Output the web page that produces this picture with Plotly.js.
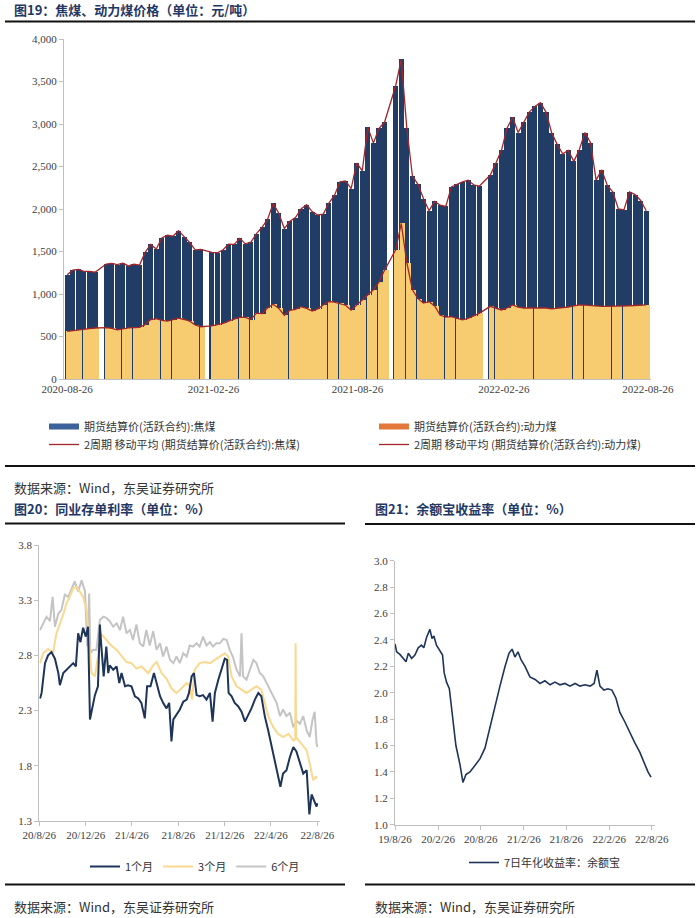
<!DOCTYPE html>
<html><head><meta charset="utf-8">
<script src="https://cdn.plot.ly/plotly-3.0.1.min.js"></script>
<style>html,body{margin:0;padding:0;background:#fff}#chart{width:700px;height:918px}</style>
</head><body><div id="chart"></div>
<script>
// ---------- Chart 1: coal prices (weekly, yuan/ton) ----------
const coalDates = [
'2020-08-26','2020-09-02','2020-09-09','2020-09-16','2020-09-23','2020-09-30',
'2020-10-14','2020-10-21','2020-10-28','2020-11-04','2020-11-11','2020-11-18','2020-11-25','2020-12-02','2020-12-09','2020-12-16','2020-12-23','2020-12-30',
'2021-01-06','2021-01-13','2021-01-20','2021-01-27','2021-02-03','2021-02-10',
'2021-02-24','2021-03-03','2021-03-10','2021-03-17','2021-03-24','2021-03-31','2021-04-07','2021-04-14','2021-04-21','2021-04-28','2021-05-05','2021-05-12','2021-05-19','2021-05-26','2021-06-02','2021-06-09','2021-06-16','2021-06-23','2021-06-30','2021-07-07','2021-07-14','2021-07-21','2021-07-28','2021-08-04','2021-08-11','2021-08-18','2021-08-25','2021-09-01','2021-09-08','2021-09-15','2021-09-22','2021-09-29',
'2021-10-13','2021-10-20','2021-10-27','2021-11-03','2021-11-10','2021-11-17','2021-11-24','2021-12-01','2021-12-08','2021-12-15','2021-12-22','2021-12-29','2022-01-05','2022-01-12','2022-01-19','2022-01-26',
'2022-02-09','2022-02-16','2022-02-23','2022-03-02','2022-03-09','2022-03-16','2022-03-23','2022-03-30','2022-04-06','2022-04-13','2022-04-20','2022-04-27','2022-05-04','2022-05-11','2022-05-18','2022-05-25','2022-06-01','2022-06-08','2022-06-15','2022-06-22','2022-06-29','2022-07-06','2022-07-13','2022-07-20','2022-07-27','2022-08-03','2022-08-10','2022-08-17','2022-08-24'
];
const cokingCoal = [
1227,1280,1290,1266,1266,1256,
1352,1360,1346,1362,1330,1350,1340,1490,1583,1530,1660,1693,
1680,1745,1675,1606,1520,1525,
1490,1485,1520,1585,1583,1655,1590,1610,1710,1785,1880,2065,1950,1770,1855,1900,2000,2050,1970,1930,1940,2070,2160,2320,2330,2240,2540,2450,2960,2775,2950,3020,
3450,3760,2950,2390,2290,2120,1980,2090,2045,2030,2260,2290,2320,2340,2285,2268,
2400,2540,2690,2950,3080,2900,3020,3140,3207,3250,3140,2900,2760,2650,2690,2560,2700,2900,2780,2340,2460,2280,2200,2000,1990,2200,2170,2100,1980
];
const thermalCoal = [
560,570,578,585,592,600,
605,595,578,590,602,605,608,640,700,710,690,680,
695,715,700,680,635,615,
625,640,655,680,705,728,725,700,775,770,835,880,830,750,808,820,850,830,800,825,870,912,905,890,868,810,870,925,990,1050,1140,1280,
1520,1830,1370,1050,945,895,910,860,750,727,733,710,695,712,740,772,
855,830,812,835,872,845,835,835,835,835,835,825,830,840,847,860,872,868,862,858,855,855,855,858,860,862,865,868,872
];
const coalTickVals = ['2020-08-26','2021-02-26','2021-08-26','2022-02-26','2022-08-26'];
const coalTickText = ['2020-08-26','2021-02-26','2021-08-26','2022-02-26','2022-08-26'];
const coalNames = ['期货结算价(活跃合约):焦煤','期货结算价(活跃合约):动力煤','2周期 移动平均 (期货结算价(活跃合约):焦煤)','2周期 移动平均 (期货结算价(活跃合约):动力煤)'];

// ---------- Chart 2: NCD rates (%) ----------
const ncd1MDates = ['2020-08-28','2020-09-01','2020-09-10','2020-09-18','2020-09-27','2020-10-06','2020-10-15','2020-10-19','2020-10-28','2020-11-05','2020-11-14','2020-11-23','2020-11-30','2020-12-06','2020-12-12','2020-12-19','2020-12-26','2021-01-01','2021-01-06','2021-01-10','2021-01-19','2021-01-27','2021-02-01','2021-02-05','2021-02-11','2021-02-18','2021-02-23','2021-02-27','2021-03-08','2021-03-17','2021-03-24','2021-03-30','2021-04-08','2021-04-16','2021-04-25','2021-05-04','2021-05-13','2021-05-21','2021-05-30','2021-06-05','2021-06-14','2021-06-23','2021-06-30','2021-07-09','2021-07-17','2021-07-26','2021-08-02','2021-08-08','2021-08-13','2021-08-21','2021-08-30','2021-09-08','2021-09-17','2021-09-23','2021-09-30','2021-10-06','2021-10-13','2021-10-21','2021-10-30','2021-11-08','2021-11-17','2021-11-24','2021-11-30','2021-12-09','2021-12-17','2021-12-26','2022-01-01','2022-01-05','2022-01-13','2022-01-21','2022-01-30','2022-02-08','2022-02-17','2022-02-25','2022-03-06','2022-03-15','2022-03-24','2022-04-01','2022-04-10','2022-04-19','2022-04-28','2022-05-07','2022-05-15','2022-05-21','2022-05-28','2022-06-06','2022-06-15','2022-06-24','2022-07-02','2022-07-11','2022-07-20','2022-07-29','2022-08-05','2022-08-11','2022-08-17','2022-08-24','2022-08-26'];
const ncd1M = [2.41,2.46,2.73,2.80,2.83,2.77,2.64,2.53,2.64,2.67,2.70,2.73,2.70,3.00,2.92,3.05,2.97,3.06,2.22,2.29,2.44,2.52,3.08,2.88,2.61,2.88,2.64,2.71,2.67,2.70,2.55,2.64,2.52,2.53,2.52,2.43,2.41,2.37,2.23,2.52,2.52,2.64,2.55,2.43,2.37,2.32,2.37,2.02,2.22,2.26,2.31,2.38,2.40,2.46,2.61,2.64,2.44,2.43,2.44,2.40,2.46,2.20,2.46,2.58,2.67,2.77,2.76,2.46,2.43,2.37,2.34,2.29,2.20,2.25,2.32,2.40,2.46,2.43,2.25,2.12,1.97,1.85,1.70,1.61,1.73,1.76,1.88,1.97,1.93,1.82,1.73,1.76,1.36,1.54,1.49,1.43,1.46];
const ncd3MDates = ['2020-08-28','2020-09-05','2020-09-18','2020-10-01','2020-10-10','2020-10-19','2020-10-28','2020-11-05','2020-11-14','2020-11-23','2020-12-02','2020-12-10','2020-12-19','2020-12-28','2021-01-04','2021-01-10','2021-01-19','2021-01-27','2021-02-03','2021-02-11','2021-02-20','2021-03-03','2021-03-17','2021-03-30','2021-04-12','2021-04-25','2021-05-08','2021-05-21','2021-05-30','2021-06-08','2021-06-21','2021-06-30','2021-07-13','2021-07-26','2021-08-08','2021-08-21','2021-09-03','2021-09-17','2021-09-25','2021-10-01','2021-10-08','2021-10-21','2021-11-04','2021-11-17','2021-11-30','2021-12-13','2021-12-26','2022-01-04','2022-01-13','2022-01-26','2022-02-08','2022-02-21','2022-03-06','2022-03-19','2022-04-01','2022-04-10','2022-04-19','2022-05-02','2022-05-15','2022-05-28','2022-06-11','2022-06-24','2022-06-29','2022-06-30','2022-07-01','2022-07-15','2022-07-29','2022-08-06','2022-08-15','2022-08-22','2022-08-26'];
const ncd3M = [2.73,2.82,2.86,2.82,3.00,3.08,3.17,3.27,3.33,3.41,3.42,3.38,3.33,3.21,2.85,2.64,2.61,2.79,3.00,2.97,2.94,2.89,2.85,2.79,2.74,2.73,2.68,2.70,2.67,2.64,2.71,2.74,2.64,2.59,2.50,2.46,2.50,2.55,2.52,2.40,2.67,2.73,2.74,2.73,2.76,2.79,2.82,2.79,2.61,2.52,2.49,2.46,2.49,2.52,2.49,2.37,2.25,2.15,2.09,2.06,2.09,2.03,2.04,2.91,2.06,2.00,1.94,1.82,1.67,1.70,1.69];
const ncd6MDates = ['2020-08-28','2020-09-05','2020-09-14','2020-09-23','2020-09-30','2020-10-06','2020-10-15','2020-10-23','2020-11-01','2020-11-10','2020-11-18','2020-11-27','2020-12-06','2020-12-15','2020-12-24','2020-12-30','2021-01-04','2021-01-07','2021-01-14','2021-01-23','2021-02-01','2021-02-10','2021-02-18','2021-02-27','2021-03-08','2021-03-17','2021-03-26','2021-04-03','2021-04-12','2021-04-21','2021-04-29','2021-05-08','2021-05-17','2021-05-26','2021-06-03','2021-06-12','2021-06-21','2021-06-30','2021-07-09','2021-07-17','2021-07-26','2021-08-04','2021-08-13','2021-08-21','2021-08-30','2021-09-08','2021-09-17','2021-09-25','2021-10-04','2021-10-13','2021-10-21','2021-10-30','2021-11-08','2021-11-17','2021-11-25','2021-12-04','2021-12-13','2021-12-22','2021-12-31','2022-01-08','2022-01-16','2022-01-26','2022-02-04','2022-02-08','2022-02-12','2022-02-21','2022-03-02','2022-03-11','2022-03-19','2022-03-28','2022-04-06','2022-04-15','2022-04-23','2022-05-02','2022-05-11','2022-05-20','2022-05-28','2022-06-06','2022-06-15','2022-06-24','2022-07-02','2022-07-11','2022-07-20','2022-07-29','2022-08-06','2022-08-13','2022-08-19','2022-08-24','2022-08-26'];
const ncd6M = [3.03,3.09,3.15,3.11,3.33,3.06,3.18,3.21,3.35,3.33,3.39,3.47,3.38,3.48,3.38,2.88,3.36,2.82,2.85,2.85,3.12,3.15,3.14,3.11,3.06,3.09,3.03,3.15,3.00,3.03,2.94,3.08,2.91,2.88,3.03,2.89,3.02,2.85,2.91,2.79,2.88,2.76,2.73,2.79,2.73,2.82,2.79,2.89,2.88,2.91,2.88,2.97,2.89,2.92,2.88,2.91,2.91,2.95,2.94,2.85,2.79,2.67,2.61,3.00,2.61,2.58,2.67,2.76,2.73,2.64,2.61,2.55,2.49,2.43,2.37,2.25,2.31,2.25,2.28,2.15,2.21,2.18,2.25,2.12,2.06,2.21,2.29,2.00,1.97];
const ncdTickVals = ['2020-08-26','2020-12-26','2021-04-26','2021-08-26','2021-12-26','2022-04-26','2022-08-26'];
const ncdTickText = ['20/8/26','20/12/26','21/4/26','21/8/26','21/12/26','22/4/26','22/8/26'];
const ncdNames = ['1个月','3个月','6个月'];

// ---------- Chart 3: Yu'e Bao 7-day annualized yield (%) ----------
const yebDates = ['2019-08-26','2019-09-02','2019-09-16','2019-09-30','2019-10-12','2019-10-22','2019-11-05','2019-11-19','2019-12-03','2019-12-17','2019-12-27','2020-01-08','2020-01-22','2020-01-31','2020-02-08','2020-02-19','2020-03-05','2020-03-16','2020-03-23','2020-04-02','2020-04-14','2020-04-25','2020-05-12','2020-05-30','2020-06-11','2020-06-24','2020-07-11','2020-08-02','2020-08-23','2020-09-13','2020-10-05','2020-10-26','2020-11-16','2020-12-08','2020-12-25','2021-01-07','2021-01-19','2021-02-01','2021-02-14','2021-03-03','2021-03-24','2021-04-15','2021-05-06','2021-05-27','2021-06-18','2021-07-09','2021-07-30','2021-08-21','2021-09-11','2021-10-03','2021-10-24','2021-11-14','2021-12-06','2021-12-23','2022-01-04','2022-01-17','2022-02-03','2022-02-20','2022-03-09','2022-03-26','2022-04-12','2022-05-03','2022-05-24','2022-06-15','2022-07-06','2022-07-23','2022-08-10','2022-08-23'];
const yebYield = [2.37,2.31,2.29,2.26,2.235,2.30,2.26,2.285,2.34,2.36,2.34,2.42,2.48,2.41,2.43,2.36,2.32,2.285,2.15,2.08,2.03,1.85,1.60,1.45,1.32,1.38,1.40,1.45,1.50,1.58,1.75,1.90,2.05,2.20,2.30,2.33,2.27,2.31,2.25,2.20,2.12,2.10,2.07,2.09,2.06,2.08,2.06,2.07,2.05,2.07,2.05,2.06,2.05,2.07,2.17,2.05,2.02,2.03,2.02,1.96,1.85,1.78,1.70,1.62,1.55,1.47,1.40,1.36];
const yebTickVals = ['2019-08-26','2020-02-26','2020-08-26','2021-02-26','2021-08-26','2022-02-26','2022-08-26'];
const yebTickText = ['19/8/26','20/2/26','20/8/26','21/2/26','21/8/26','22/2/26','22/8/26'];
const yebName = '7日年化收益率：余额宝';

// ---------- helpers ----------
const W = 700, H = 918;
const px = v => v / W, py = v => 1 - v / H;
const serif = 'Liberation Serif, Times New Roman, serif';
const cjk = 'Noto Sans CJK SC, Liberation Serif, sans-serif';
const tickFont = {family: serif, size: 11, color: '#404040'};
const legFont = {family: cjk, size: 11, color: '#333'};
const DAY = 86400000;
const AX = '#BFBFBF';
const RED = '#A3262A';

const traces = [
  {type:'bar', x: coalDates, y: cokingCoal, name: coalNames[0], width: 6.4*DAY, showlegend:false,
   marker:{color:'#213D66', line:{width:0}}, xaxis:'x', yaxis:'y'},
  {type:'bar', x: coalDates, y: thermalCoal, name: coalNames[1], width: 6.7*DAY, offset: -1.6*DAY, showlegend:false,
   marker:{color:'#F7CC70', line:{width:0}}, xaxis:'x', yaxis:'y'},
  {type:'scatter', mode:'lines', x: coalDates, y: cokingCoal, name: coalNames[2],
   line:{color:RED, width:1.3}, xaxis:'x', yaxis:'y', legend:'legend5'},
  {type:'scatter', mode:'lines', x: coalDates, y: thermalCoal, name: coalNames[3],
   line:{color:RED, width:1.3}, xaxis:'x', yaxis:'y', legend:'legend6'},
  // legend keys for the two bar series (no data points of their own)
  {type:'scatter', mode:'lines', x:[null], y:[null], name: coalNames[0], showlegend:true,
   line:{color:'#3D619B', width:6}, xaxis:'x', yaxis:'y', legend:'legend'},
  {type:'scatter', mode:'lines', x:[null], y:[null], name: coalNames[1], showlegend:true,
   line:{color:'#E2783A', width:6}, xaxis:'x', yaxis:'y', legend:'legend4'},

  {type:'scatter', mode:'lines', x: ncd6MDates, y: ncd6M, name: ncdNames[2], legendrank: 3,
   line:{color:'#C4C4C4', width:2}, xaxis:'x2', yaxis:'y2', legend:'legend2'},
  {type:'scatter', mode:'lines', x: ncd3MDates, y: ncd3M, name: ncdNames[1], legendrank: 2,
   line:{color:'#FAD88E', width:2}, xaxis:'x2', yaxis:'y2', legend:'legend2'},
  {type:'scatter', mode:'lines', x: ncd1MDates, y: ncd1M, name: ncdNames[0], legendrank: 1,
   line:{color:'#1F3459', width:2}, xaxis:'x2', yaxis:'y2', legend:'legend2'},

  {type:'scatter', mode:'lines', x: yebDates, y: yebYield, name: yebName,
   line:{color:'#1F3459', width:1.6}, xaxis:'x3', yaxis:'y3', legend:'legend3', showlegend:true}
];

const baseY = {showgrid:false, zeroline:false, showline:true, linecolor:AX, linewidth:1,
  ticks:'outside', ticklen:4, tickcolor:AX, tickfont:tickFont, fixedrange:true};
const baseX = {type:'date', showgrid:false, zeroline:false, showline:true, linecolor:AX, linewidth:1,
  tickfont:tickFont, fixedrange:true, tickmode:'array'};

function ann(text, x, y, opts) {
  return Object.assign({text, x: px(x), y: py(y), xref:'paper', yref:'paper',
    xanchor:'left', yanchor:'middle', showarrow:false,
    font:{family:cjk, size:13, color:'#333'}}, opts || {});
}
function hline(x0, x1, y) {
  return {type:'line', xref:'paper', yref:'paper', x0: px(x0), x1: px(x1), y0: py(y), y1: py(y),
    line:{color:'#111', width:2}};
}
function leg(x, yTop, anchor) {
  return {x: px(x), y: py(yTop), xanchor: anchor || 'left', yanchor:'top', orientation:'h',
    font: legFont, bgcolor:'rgba(0,0,0,0)', tracegroupgap:0};
}
const titleFont = {family:cjk, size:13, color:'#1F3864', weight:'bold'};

const layout = {
  width: W, height: H, margin:{l:0, r:0, t:0, b:0},
  paper_bgcolor:'#fff', plot_bgcolor:'#fff',
  barmode:'overlay', bargap:0,
  showlegend:true,
  xaxis: Object.assign({}, baseX, {domain:[px(64), px(651)], anchor:'y',
    range:['2020-08-22','2022-08-30'], tickvals: coalTickVals, ticktext: coalTickText, ticks:''}),
  yaxis: Object.assign({}, baseY, {domain:[py(379), py(39)], anchor:'x',
    range:[0,4000], dtick:500, tickformat:',d'}),
  xaxis2: Object.assign({}, baseX, {domain:[px(39.3), px(320)], anchor:'y2',
    range:['2020-08-26','2022-09-02'], tickvals: ncdTickVals, ticktext: ncdTickText,
    ticks:'outside', ticklen:4, tickcolor:AX}),
  yaxis2: Object.assign({}, baseY, {domain:[py(821), py(545)], anchor:'x2',
    range:[1.3,3.8], dtick:0.5, tick0:1.3, tickformat:'.1f'}),
  xaxis3: Object.assign({}, baseX, {domain:[px(395), px(655)], anchor:'y3',
    range:['2019-08-26','2022-09-09'], tickvals: yebTickVals, ticktext: yebTickText,
    ticks:'outside', ticklen:4, tickcolor:AX}),
  yaxis3: Object.assign({}, baseY, {domain:[py(824.7), py(560.7)], anchor:'x3',
    range:[1,3], dtick:0.2, tick0:1, tickformat:'.1f'}),
  legend: leg(44, 412),
  legend4: leg(374, 412),
  legend5: leg(44, 430),
  legend6: leg(374, 430),
  legend2: leg(195, 852, 'center'),
  legend3: leg(545, 848, 'center'),
  annotations: [
    ann('图19：焦煤、动力煤价格（单位：元/吨）', 12, 9.5, {font: titleFont}),
    ann('数据来源：Wind，东吴证券研究所', 12, 487.5),
    ann('图20：同业存单利率（单位：%）', 12, 508, {font: titleFont}),
    ann('图21：余额宝收益率（单位：%）', 373, 508, {font: titleFont}),
    ann('数据来源：Wind，东吴证券研究所', 12, 906.5),
    ann('数据来源：Wind，东吴证券研究所', 373, 906.5)
  ],
  shapes: [
    hline(5, 695, 21.5),
    hline(5, 695, 466),
    hline(5, 345, 523.5),
    hline(365, 695, 524),
    hline(5, 345, 884.5),
    hline(365, 695, 884.5)
  ]
};

Plotly.newPlot('chart', traces, layout, {staticPlot:true, displayModeBar:false});
</script></body></html>
